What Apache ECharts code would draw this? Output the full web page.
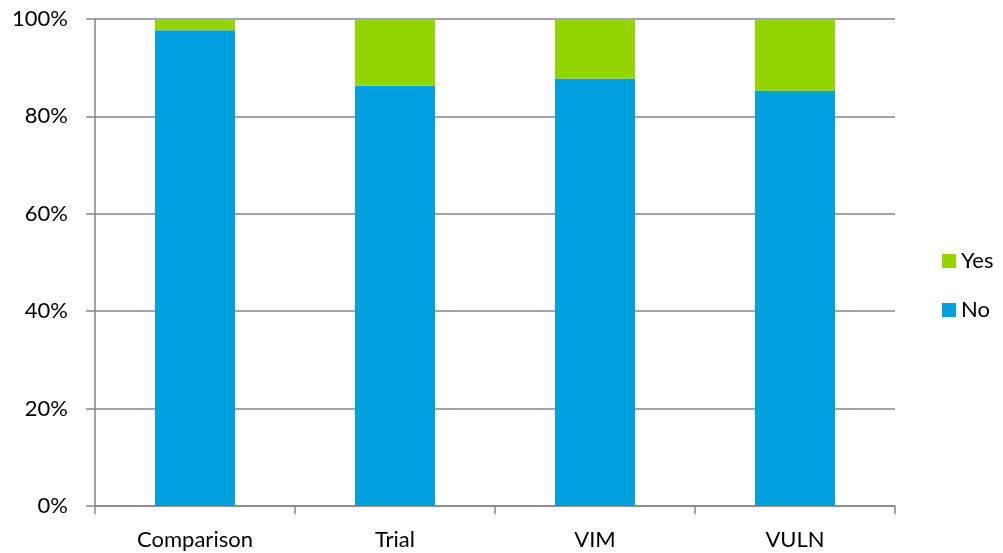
<!DOCTYPE html>
<html>
<head>
<meta charset="utf-8">
<script src="https://cdn.jsdelivr.net/npm/echarts@6/dist/echarts.min.js"></script>
<style>
  html, body { margin: 0; padding: 0; background: #fff; }
  #chart { width: 1003px; height: 553px; }
</style>
</head>
<body>
<div id="chart"></div>
<script>
var categories = ['Comparison', 'Trial', 'VIM', 'VULN'];
var noValues = [97.7, 86.3, 87.8, 85.3];
var yesValues = [2.3, 13.7, 12.2, 14.7];

var myChart = echarts.init(document.getElementById('chart'));
var font = 'Lato, "Open Sans", sans-serif';

var option = {
  animation: false,
  textStyle: { fontFamily: font },
  grid: { left: 95, right: 108, top: 19, bottom: 47 },
  legend: {
    orient: 'vertical',
    left: 937,
    top: 245,
    itemWidth: 14,
    itemHeight: 14,
    itemGap: 27,
    icon: 'rect',
    data: ['Yes', 'No'],
    textStyle: { fontSize: 22, color: '#000', fontFamily: font }
  },
  xAxis: {
    type: 'category',
    data: categories,
    axisLine: { lineStyle: { color: '#868686', width: 1.5 } },
    axisTick: { show: true, length: 8, lineStyle: { color: '#868686', width: 1.5 } },
    axisLabel: { fontSize: 22, color: '#000', margin: 23, fontFamily: font }
  },
  yAxis: {
    type: 'value',
    min: 0,
    max: 100,
    interval: 20,
    axisLine: { show: true, lineStyle: { color: '#868686', width: 1.5 } },
    axisTick: { show: true, length: 9, lineStyle: { color: '#868686', width: 1.5 } },
    splitLine: { lineStyle: { color: '#868686', width: 1.5 } },
    axisLabel: { fontSize: 22, color: '#000', margin: 27, formatter: '{value}%', fontFamily: font }
  },
  series: [
    {
      name: 'No',
      type: 'bar',
      stack: 'total',
      data: noValues,
      barWidth: '40%',
      itemStyle: { color: '#00A0DF' }
    },
    {
      name: 'Yes',
      type: 'bar',
      stack: 'total',
      data: yesValues,
      barWidth: '40%',
      itemStyle: { color: '#93D500' }
    }
  ]
};

myChart.setOption(option);
</script>
</body>
</html>
